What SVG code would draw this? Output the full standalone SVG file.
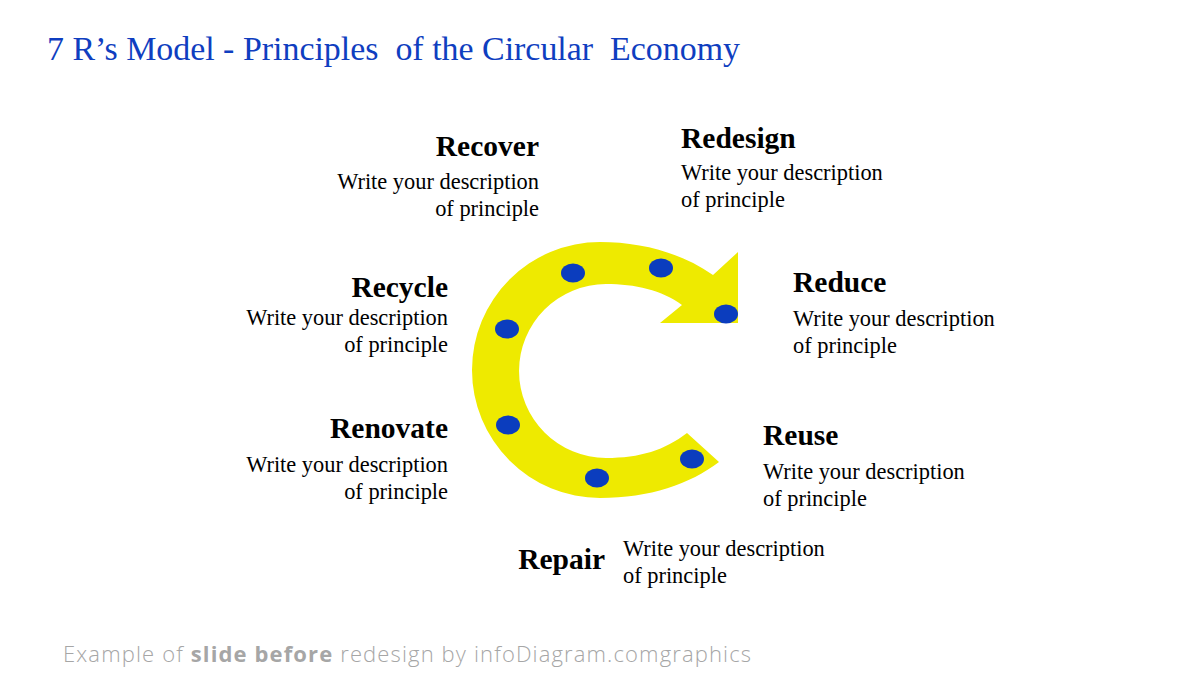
<svg xmlns="http://www.w3.org/2000/svg" width="1200" height="675" viewBox="0 0 1200 675">
<style>
.title{font-family:"Liberation Serif","Times New Roman",serif;font-size:33px;fill:#0F3EC0;}
.head{font-family:"Liberation Serif","Times New Roman",serif;font-size:29.5px;font-weight:bold;fill:#000;}
.desc{font-family:"Liberation Serif","Times New Roman",serif;font-size:22.4px;fill:#000;}
.r{text-anchor:end;}
.foot{font-family:"Open Sans","Liberation Sans",sans-serif;font-size:22px;fill:#A6A6A6;font-weight:300;}
.dot{fill:#0B3DBE;}
.arrow{fill:#EEEA00;}
</style>
<rect width="1200" height="675" fill="#fff"/>
<text class="title" x="47" y="60" textLength="693" lengthAdjust="spacingAndGlyphs" xml:space="preserve">7 R’s Model - Principles  of the Circular  Economy</text>

<g id="cycle-arrow">
<path class="arrow" d="M713,275 C680,252 640,242 600,242 A128,128 0 0 0 600,498 C650,498 690,484 719,462 L687,433 C665,450 640,458 606,458 A87,87 0 0 1 606,284 C635,284 662,290 682,305 L660,323 L738,323 L738,252 Z"/>
<ellipse class="dot" cx="573" cy="273" rx="12" ry="9.5"/>
<ellipse class="dot" cx="661" cy="268" rx="12" ry="9.5"/>
<ellipse class="dot" cx="726" cy="314" rx="12" ry="9.5"/>
<ellipse class="dot" cx="507" cy="329" rx="12" ry="9.5"/>
<ellipse class="dot" cx="508" cy="425" rx="12" ry="9.5"/>
<ellipse class="dot" cx="597" cy="478" rx="12" ry="9.5"/>
<ellipse class="dot" cx="692" cy="459" rx="12" ry="9.5"/>
</g>

<g id="recover">
<text class="head r" x="539" y="156">Recover</text>
<text class="desc r" x="539" y="189">Write your description</text>
<text class="desc r" x="539" y="216">of principle</text>
</g>
<g id="redesign">
<text class="head" x="681" y="148">Redesign</text>
<text class="desc" x="681" y="180">Write your description</text>
<text class="desc" x="681" y="207">of principle</text>
</g>
<g id="recycle">
<text class="head r" x="448" y="297">Recycle</text>
<text class="desc r" x="448" y="325">Write your description</text>
<text class="desc r" x="448" y="352">of principle</text>
</g>
<g id="reduce">
<text class="head" x="793" y="292">Reduce</text>
<text class="desc" x="793" y="326">Write your description</text>
<text class="desc" x="793" y="353">of principle</text>
</g>
<g id="renovate">
<text class="head r" x="448" y="438">Renovate</text>
<text class="desc r" x="448" y="472">Write your description</text>
<text class="desc r" x="448" y="499">of principle</text>
</g>
<g id="reuse">
<text class="head" x="763" y="445">Reuse</text>
<text class="desc" x="763" y="479">Write your description</text>
<text class="desc" x="763" y="506">of principle</text>
</g>
<g id="repair">
<text class="head r" x="605" y="569">Repair</text>
<text class="desc" x="623" y="556">Write your description</text>
<text class="desc" x="623" y="583">of principle</text>
</g>

<text class="foot" x="63" y="662" textLength="688" lengthAdjust="spacing">Example of <tspan font-weight="bold">slide before</tspan> redesign by infoDiagram.comgraphics</text>
</svg>
